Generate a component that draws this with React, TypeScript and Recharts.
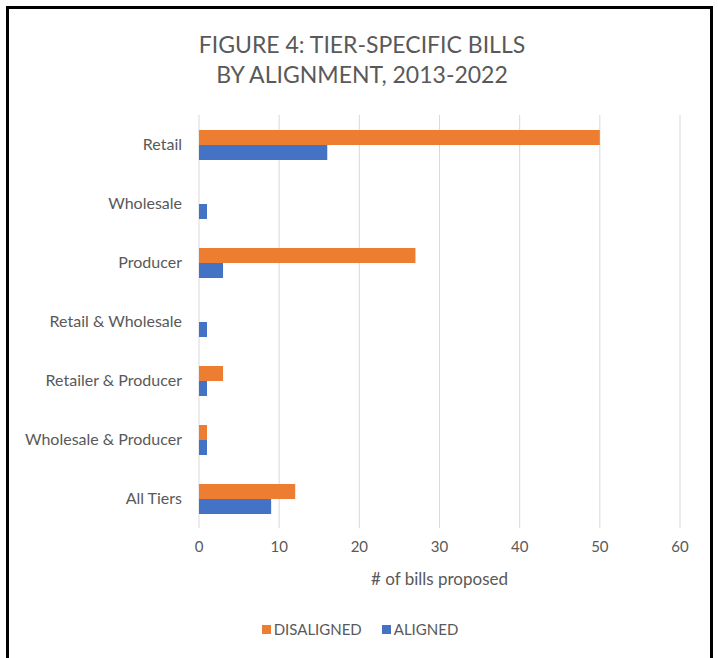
import React from "react";
import { BarChart, Bar, XAxis, YAxis, CartesianGrid, Legend, Label } from "recharts";

const categories = [
  "Retail",
  "Wholesale",
  "Producer",
  "Retail & Wholesale",
  "Retailer & Producer",
  "Wholesale & Producer",
  "All Tiers",
];
const disaligned = [50, 0, 27, 0, 3, 1, 12];
const aligned = [16, 1, 3, 1, 1, 1, 9];
const xTicks = [0, 10, 20, 30, 40, 50, 60];
const titleLines = ["FIGURE 4: TIER-SPECIFIC BILLS", "BY ALIGNMENT, 2013-2022"];
const seriesNames = ["DISALIGNED", "ALIGNED"];

const data = categories.map((c, i) => ({
  name: c,
  DISALIGNED: disaligned[i],
  ALIGNED: aligned[i],
}));

const FONT = "Lato, 'Open Sans', sans-serif";
const GRAY = "#595959";
const ORANGE = "#ED7D31";
const BLUE = "#4472C4";
const seriesColors = [ORANGE, BLUE];

const renderLegend = () => {
  return (
    <div style={{ display: "flex", justifyContent: "center", gap: 20, fontFamily: FONT, fontSize: 15, color: GRAY, paddingLeft: 2 }}>
      {seriesNames.map((n, i) => (
        <div key={n} style={{ display: "flex", alignItems: "center" }}>
          <span style={{ display: "inline-block", width: 9, height: 9, background: seriesColors[i], marginRight: 3 }} />
          <span>{n}</span>
        </div>
      ))}
    </div>
  );
};

export default function App() {
  return (
    <div style={{ position: "absolute", left: 0, top: 0, width: 718, height: 658, background: "#fff", overflow: "hidden" }}>
      <div
        style={{
          position: "absolute",
          left: 6,
          top: 6,
          width: 701,
          height: 700,
          borderLeft: "3px solid #000",
          borderTop: "3px solid #000",
          borderRight: "3px solid #000",
        }}
      />
      {titleLines.map((t, i) => (
        <div
          key={t}
          style={{
            position: "absolute",
            left: 0,
            width: 724,
            top: 30 + i * 30,
            textAlign: "center",
            fontFamily: FONT,
            fontSize: 23,
            lineHeight: "28px",
            color: GRAY,
          }}
        >
          {t}
        </div>
      ))}
      <div style={{ position: "absolute", left: 0, top: 0 }}>
        <BarChart
          width={718}
          height={658}
          data={data}
          layout="vertical"
          margin={{ top: 115, right: 38, bottom: 68, left: 0 }}
          barGap={0}
          barSize={15}
        >
          <CartesianGrid horizontal={false} stroke="#D9D9D9" />
          <XAxis
            type="number"
            domain={[0, 60]}
            ticks={xTicks}
            axisLine={false}
            tickLine={false}
            tickMargin={7}
            height={62}
            tick={{ fill: GRAY, fontSize: 15, fontFamily: FONT }}
          >
            <Label
              value="# of bills proposed"
              position="insideBottom"
              offset={5}
              style={{ fill: GRAY, fontSize: 17, fontFamily: FONT }}
            />
          </XAxis>
          <YAxis
            type="category"
            dataKey="name"
            width={199}
            axisLine={false}
            tickLine={false}
            tickMargin={11}
            tick={{ fill: GRAY, fontSize: 16, fontFamily: FONT }}
          />
          <Legend
            layout="horizontal"
            verticalAlign="middle"
            align="center"
            wrapperStyle={{ top: 620, left: 0, width: 718 }}
            content={renderLegend}
          />
          <Bar dataKey="DISALIGNED" fill={ORANGE} isAnimationActive={false} />
          <Bar dataKey="ALIGNED" fill={BLUE} isAnimationActive={false} />
        </BarChart>
      </div>
    </div>
  );
}
